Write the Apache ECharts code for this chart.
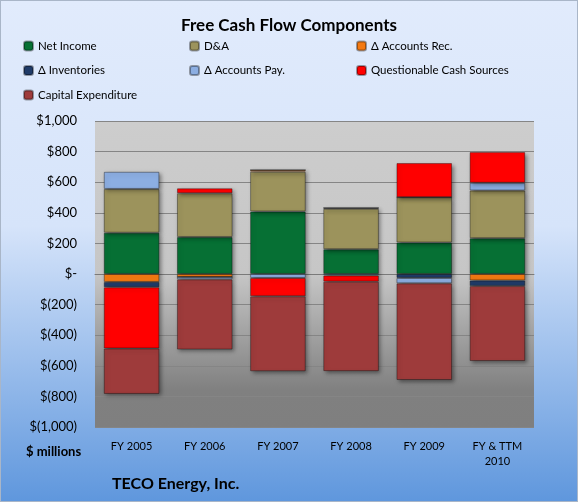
<!DOCTYPE html>
<html>
<head>
<meta charset="utf-8">
<script src="https://cdn.jsdelivr.net/npm/echarts@6/dist/echarts.min.js"></script>
<style>
html, body { margin: 0; padding: 0; }
#fcf_chart { width: 576px; height: 500px; border: 1px solid #a9b6c8; }
</style>
</head>
<body>
<div id="fcf_chart"></div>
<script>
// $ millions
var years = ["FY 2005", "FY 2006", "FY 2007", "FY 2008", "FY 2009", "FY & TTM\n2010"];
var net_income = [270, 242, 409, 162, 206, 234];
var dep_amort = [286, 286, 260, 264, 296, 312];
var accounts_rec = [-52, -20, 11, 6, 0, -42];
var inventories = [-35, 0, 0, 0, -26, -37];
var accounts_pay = [112, -15, -26, -10, -35, 50];
var questionable = [-400, 32, -120, -40, 223, 201];
var capex = [-297, -459, -490, -585, -632, -490];

var names = ["Net Income", "D&A", "\u0394 Accounts Rec.", "\u0394 Inventories",
    "\u0394 Accounts Pay.", "Questionable Cash Sources", "Capital Expenditure"];
var colors = ["#067034", "#9c935c", "#f47a12", "#1f3b68", "#8caee2", "#ff0000", "#9e3b3b"];
var values = [net_income, dep_amort, accounts_rec, inventories, accounts_pay, questionable, capex];

var font = "Lato, 'Open Sans', sans-serif";

function money(v) {
    if (v === 0) return "$-";
    var s = Math.abs(v).toLocaleString("en-US");
    return v < 0 ? "$(" + s + ")" : "$" + s;
}

var series = [];
names.forEach(function(n, i) {
    series.push({
        name: n,
        type: "bar",
        stack: "fcf",
        barWidth: "76%",
        data: values[i],
        itemStyle: {
            color: colors[i],
            borderColor: "rgba(0,0,0,0.35)",
            borderWidth: 1,
            shadowBlur: 4,
            shadowColor: "rgba(0,0,0,0.4)",
            shadowOffsetX: 2,
            shadowOffsetY: 2
        }
    });
});

function legendAt(left, data) {
    return {
        left: left,
        top: 34,
        orient: "vertical",
        itemWidth: 9,
        itemHeight: 9,
        itemGap: 12.5,
        data: data,
        textStyle: { fontFamily: font, fontSize: 11.5, color: "#000" }
    };
}

var chart = echarts.init(document.getElementById("fcf_chart"));
chart.setOption({
    color: colors,
    backgroundColor: {
        type: "linear", x: 0, y: 0, x2: 0, y2: 1,
        colorStops: [
            { offset: 0, color: "#e1ebfc" },
            { offset: 0.45, color: "#d6e4fa" },
            { offset: 1, color: "#5f97dd" }
        ]
    },
    title: [
        {
            text: "Free Cash Flow Components",
            left: "center",
            top: 11,
            textStyle: { fontFamily: font, fontSize: 17, fontWeight: "bold", color: "#000" }
        },
        {
            text: "$ millions",
            left: 20,
            top: 439,
            textStyle: { fontFamily: font, fontSize: 13, fontWeight: "bold", color: "#000" }
        },
        {
            text: "TECO Energy, Inc.",
            left: 106,
            top: 470,
            textStyle: { fontFamily: font, fontSize: 16, fontWeight: "bold", color: "#000" }
        }
    ],
    legend: [
        legendAt(17, [names[0], names[3], names[6]]),
        legendAt(183, [names[1], names[4]]),
        legendAt(350, [names[2], names[5]])
    ],
    grid: {
        left: 94,
        right: 43,
        top: 120,
        bottom: 74,
        show: true,
        borderWidth: 0,
        backgroundColor: {
            type: "linear", x: 0, y: 0, x2: 0, y2: 1,
            colorStops: [
                { offset: 0, color: "#cdcdcd" },
                { offset: 0.5, color: "#c6c6c6" },
                { offset: 0.88, color: "#808080" },
                { offset: 1, color: "#7f7f7f" }
            ]
        }
    },
    xAxis: [
        {
            type: "category",
            data: years,
            axisLine: { show: false, onZero: false },
            axisTick: { show: false },
            axisLabel: { fontFamily: font, fontSize: 11, color: "#000", margin: 12, lineHeight: 15 }
        },
        {
            type: "category",
            data: years,
            position: "bottom",
            axisLine: { onZero: true, lineStyle: { color: "#7a7a7a", width: 1 } },
            axisTick: { inside: true, length: 4, lineStyle: { color: "#7a7a7a" } },
            axisLabel: { show: false }
        }
    ],
    yAxis: {
        type: "value",
        min: -1000,
        max: 1000,
        interval: 200,
        axisLine: { show: false },
        axisTick: { show: false },
        splitLine: { lineStyle: { color: "#858585", width: 1 } },
        axisLabel: {
            fontFamily: font, fontSize: 13, color: "#000", margin: 18,
            formatter: money
        }
    },
    series: series
});
</script>
</body>
</html>
